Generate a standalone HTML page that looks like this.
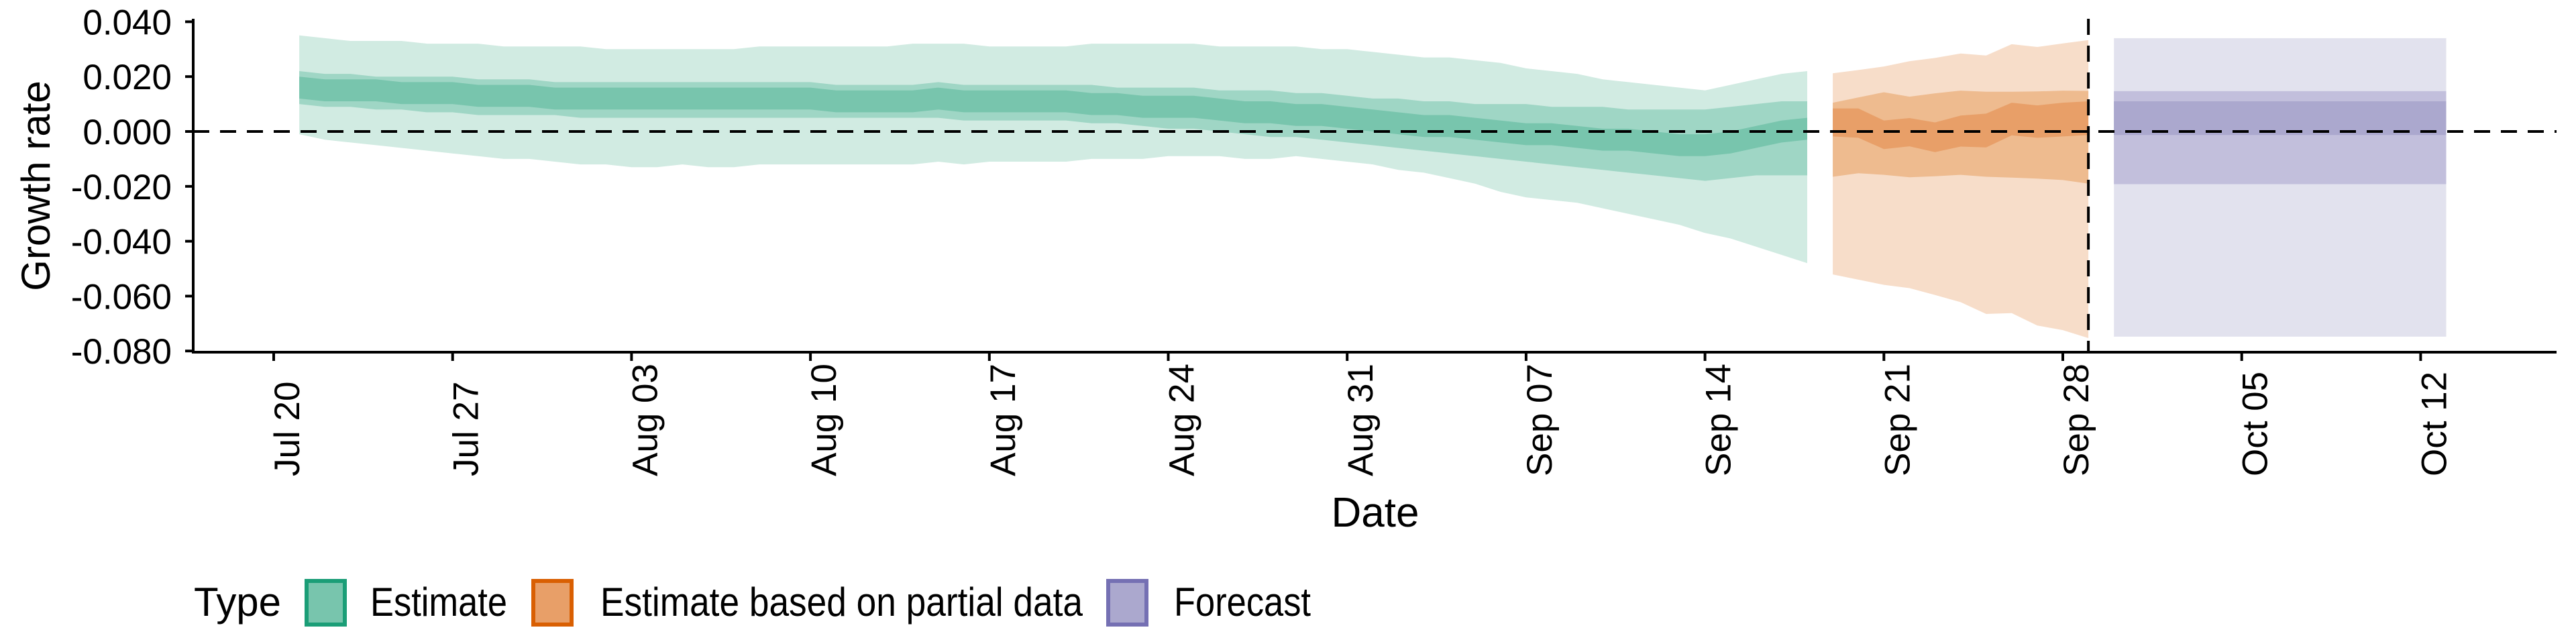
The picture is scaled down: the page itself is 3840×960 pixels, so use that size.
<!DOCTYPE html>
<html><head><meta charset="utf-8"><style>
html,body{margin:0;padding:0;background:#fff;}
svg{display:block;font-family:"Liberation Sans",Arial,sans-serif;}
</style></head><body>
<svg id="chart" width="3840" height="960" viewBox="0 0 3840 960">
<g id="bands"></g>
<g id="axes"></g>
<text x="0" y="0" transform="translate(74,277) rotate(-90)" text-anchor="middle" font-size="60">Growth rate</text>
<text x="2050" y="785" text-anchor="middle" font-size="62">Date</text>
<g>
<text x="289" y="918" font-size="60" textLength="130" lengthAdjust="spacingAndGlyphs">Type</text>
<g>
<rect x="457" y="866" width="57" height="65" fill="#78c5ad" stroke="#1b9e77" stroke-width="6"/>
<text x="552" y="918" font-size="60" textLength="204" lengthAdjust="spacingAndGlyphs">Estimate</text></g>
<g>
<rect x="795" y="866" width="57" height="65" fill="#e89f68" stroke="#d95f02" stroke-width="6"/>
<text x="895" y="918" font-size="60" textLength="719" lengthAdjust="spacingAndGlyphs">Estimate based on partial data</text></g>
<g>
<rect x="1652" y="866" width="57" height="65" fill="#aba8ce" stroke="#7570b3" stroke-width="6"/>
<text x="1750" y="918" font-size="60" textLength="204" lengthAdjust="spacingAndGlyphs">Forecast</text></g>
</g>
</svg>
<script>
// Estimate (days since Jul 20: 1..60)
const estDays = Array.from({length:60},(_,i)=>i+1);
const estUpper90 = [0.035,0.034,0.033,0.033,0.033,0.032,0.032,0.032,0.031,0.031,0.031,0.031,0.030,0.030,0.030,0.030,0.030,0.030,0.031,0.031,0.031,0.031,0.031,0.031,0.032,0.032,0.032,0.031,0.031,0.031,0.031,0.032,0.032,0.032,0.032,0.032,0.031,0.031,0.031,0.031,0.030,0.030,0.029,0.028,0.027,0.027,0.026,0.025,0.023,0.022,0.021,0.019,0.018,0.017,0.016,0.015,0.017,0.019,0.021,0.022];
const estLower90 = [-0.001,-0.003,-0.004,-0.005,-0.006,-0.007,-0.008,-0.009,-0.010,-0.010,-0.011,-0.012,-0.012,-0.013,-0.013,-0.012,-0.013,-0.013,-0.012,-0.012,-0.012,-0.012,-0.012,-0.012,-0.012,-0.011,-0.012,-0.011,-0.011,-0.011,-0.011,-0.010,-0.010,-0.010,-0.009,-0.009,-0.009,-0.010,-0.010,-0.009,-0.010,-0.011,-0.012,-0.014,-0.015,-0.017,-0.019,-0.022,-0.024,-0.025,-0.026,-0.028,-0.030,-0.032,-0.034,-0.037,-0.039,-0.042,-0.045,-0.048];
const estUpper50 = [0.022,0.021,0.021,0.020,0.020,0.020,0.020,0.019,0.019,0.019,0.018,0.018,0.018,0.018,0.018,0.018,0.018,0.018,0.018,0.018,0.018,0.017,0.017,0.017,0.017,0.018,0.017,0.017,0.017,0.017,0.017,0.017,0.016,0.016,0.016,0.016,0.015,0.015,0.015,0.014,0.014,0.013,0.012,0.012,0.011,0.011,0.010,0.010,0.010,0.009,0.009,0.009,0.008,0.008,0.008,0.008,0.009,0.010,0.011,0.011];
const estLower50 = [0.010,0.009,0.009,0.008,0.008,0.007,0.007,0.006,0.006,0.006,0.006,0.005,0.005,0.005,0.005,0.005,0.005,0.005,0.005,0.005,0.005,0.005,0.005,0.005,0.005,0.005,0.004,0.004,0.004,0.004,0.004,0.003,0.003,0.002,0.001,0.001,0.000,-0.001,-0.002,-0.002,-0.003,-0.004,-0.005,-0.006,-0.007,-0.008,-0.009,-0.010,-0.011,-0.012,-0.013,-0.014,-0.015,-0.016,-0.017,-0.018,-0.017,-0.016,-0.016,-0.016];
const estMedian = [0.016,0.015,0.015,0.015,0.014,0.014,0.014,0.013,0.013,0.013,0.012,0.012,0.012,0.012,0.012,0.012,0.012,0.012,0.012,0.012,0.012,0.011,0.011,0.011,0.011,0.012,0.011,0.011,0.011,0.011,0.011,0.010,0.010,0.009,0.009,0.009,0.008,0.007,0.007,0.006,0.006,0.005,0.004,0.003,0.002,0.002,0.001,0.000,-0.001,-0.001,-0.002,-0.003,-0.003,-0.004,-0.005,-0.005,-0.004,-0.002,0.000,0.001];
const estSpread20 = 0.004;
// Estimate based on partial data (days 61..71)
const partDays = [61,62,63,64,65,66,67,68,69,70,71];
const partUpper90 = [0.0212,0.0224,0.0237,0.0256,0.0268,0.0284,0.0277,0.0318,0.0308,0.0321,0.0333];
const partLower90 = [-0.0521,-0.0540,-0.0559,-0.0571,-0.0596,-0.0622,-0.0665,-0.0662,-0.0707,-0.0724,-0.0753];
const partUpper50 = [0.0105,0.0124,0.0143,0.0127,0.0139,0.0149,0.0145,0.0145,0.0146,0.0149,0.0148];
const partLower50 = [-0.0165,-0.0152,-0.0158,-0.0167,-0.0163,-0.0158,-0.0165,-0.0168,-0.0172,-0.0177,-0.0190];
const partUpper20 = [0.0084,0.0084,0.0040,0.0049,0.0033,0.0058,0.0065,0.0105,0.0095,0.0105,0.0110];
const partLower20 = [-0.0018,-0.0023,-0.0064,-0.0054,-0.0075,-0.0055,-0.0058,-0.0014,-0.0023,-0.0018,-0.0013];
// Forecast (days 72..85)
const fcDays = [72,85];
const fcUpper90 = [0.034,0.034];
const fcLower90 = [-0.0748,-0.0748];
const fcUpper50 = [0.0147,0.0147];
const fcLower50 = [-0.0192,-0.0192];
const fcUpper20 = [0.011,0.011];
const fcLower20 = [-0.0013,-0.0013];
// Axis ticks
const yTicks = [0.04,0.02,0,-0.02,-0.04,-0.06,-0.08];
const yTickLabels = ["0.040","0.020","0.000","-0.020","-0.040","-0.060","-0.080"];
const xTickDays = [0,7,14,21,28,35,42,49,56,63,70,77,84];
const xTickLabels = ["Jul 20","Jul 27","Aug 03","Aug 10","Aug 17","Aug 24","Aug 31","Sep 07","Sep 14","Sep 21","Sep 28","Oct 05","Oct 12"];
const dataCutoffDay = 71;

const NS="http://www.w3.org/2000/svg";
const X0=288, X1=3811, Y0=28, Yb=525;
function xs(d){return 408+38.1*d;}
function ys(v){return 196-v*4090;}
const bands=document.getElementById('bands');
const axes=document.getElementById('axes');
function band(days,up,lo,fill,name){
  let p='';
  days.forEach((d,i)=>{p+=(i?'L':'M')+xs(d).toFixed(1)+','+ys(up[i]).toFixed(1);});
  for(let i=days.length-1;i>=0;i--){p+='L'+xs(days[i]).toFixed(1)+','+ys(lo[i]).toFixed(1);}
  const e=document.createElementNS(NS,'path');
  e.setAttribute('d',p+'Z');e.setAttribute('fill',fill);
  
  
  bands.appendChild(e);
}
const estU20=estMedian.map(v=>v+estSpread20), estL20=estMedian.map(v=>v-estSpread20);
band(estDays,estUpper90,estLower90,'#d1ebe2','estimate-band-90');
band(estDays,estUpper50,estLower50,'#9fd6c5','estimate-band-50');
band(estDays,estU20,estL20,'#78c5ad','estimate-band-20');
band(partDays,partUpper90,partLower90,'#f7ddc9','partial-band-90');
band(partDays,partUpper50,partLower50,'#eebb8f','partial-band-50');
band(partDays,partUpper20,partLower20,'#e89f68','partial-band-20');
band(fcDays,fcUpper90,fcLower90,'#e2e2ee','forecast-band-90');
band(fcDays,fcUpper50,fcLower50,'#c2bfdc','forecast-band-50');
band(fcDays,fcUpper20,fcLower20,'#aba8ce','forecast-band-20');

function line(x1,y1,x2,y2,w,dash,name){
  const e=document.createElementNS(NS,'line');
  e.setAttribute('x1',x1);e.setAttribute('y1',y1);e.setAttribute('x2',x2);e.setAttribute('y2',y2);
  e.setAttribute('stroke','#000');e.setAttribute('stroke-width',w);
  if(dash)e.setAttribute('stroke-dasharray',dash);
  
  
  axes.appendChild(e);return e;
}
line(X0,ys(0),X1,ys(0),4,'24,16','zero-reference-line');
line(xs(dataCutoffDay),Y0,xs(dataCutoffDay),Yb,4,'24,16','data-cutoff-line');
line(X0,Y0,X0,Yb+2,4,null,'y-axis-line');
line(X0-2,Yb,X1,Yb,4,null,'x-axis-line');
yTicks.forEach((v,i)=>{
  line(X0-12,ys(v),X0,ys(v),4,null,'y-tick');
  const t=document.createElementNS(NS,'text');
  t.setAttribute('x',256);t.setAttribute('y',ys(v)+19);
  t.setAttribute('text-anchor','end');t.setAttribute('font-size','53');
  t.textContent=yTickLabels[i];
  
  
  axes.appendChild(t);
});
xTickDays.forEach((d,i)=>{
  line(xs(d),Yb,xs(d),Yb+13,4,null,'x-tick');
  const t=document.createElementNS(NS,'text');
  t.setAttribute('transform','translate('+(xs(d)+38).toFixed(1)+',710) rotate(-90)');
  t.setAttribute('text-anchor','start');t.setAttribute('font-size','53');
  t.textContent=xTickLabels[i];
  
  
  axes.appendChild(t);
});
</script>
</body></html>
